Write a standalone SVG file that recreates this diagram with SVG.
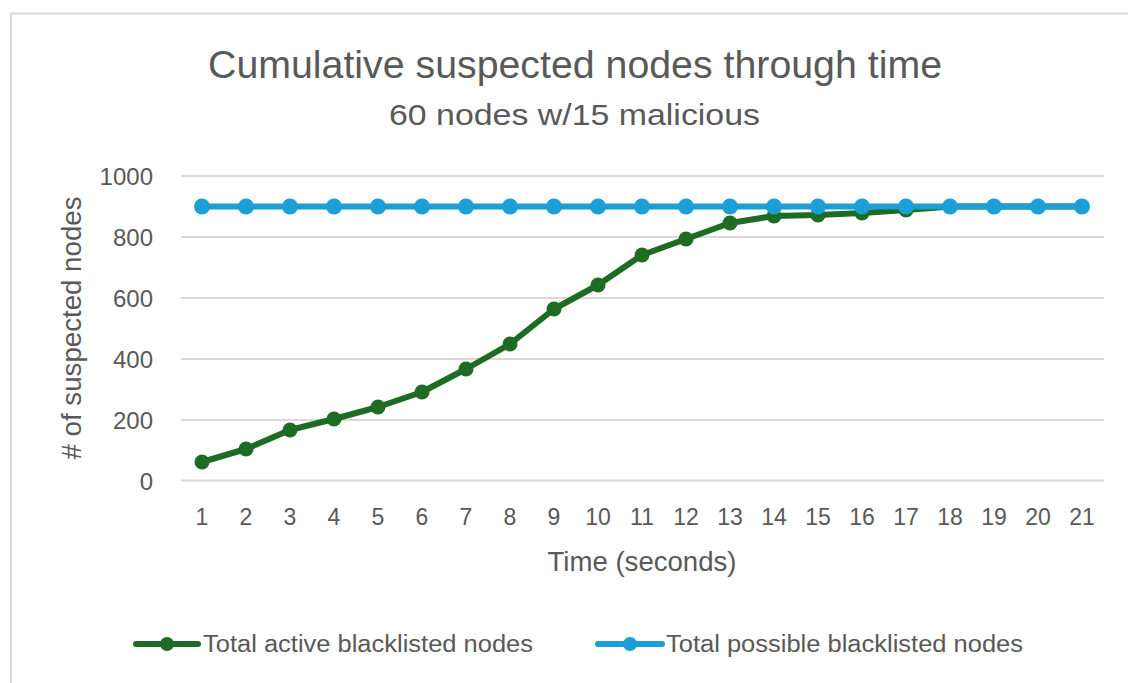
<svg xmlns="http://www.w3.org/2000/svg" width="1128" height="683" viewBox="0 0 1128 683">
<style>
text{font-family:"Liberation Sans",Arial,sans-serif;fill:#595959}
.grid{stroke:#d9d9d9;stroke-width:2}
.yl{font-size:24px;text-anchor:end}
.xl{font-size:23px;text-anchor:middle}
.g{stroke:#1e6b23;stroke-width:6;fill:none;stroke-linejoin:round;stroke-linecap:round}
.b{stroke:#1a9fd6;stroke-width:6;fill:none;stroke-linejoin:round}
.gm{fill:#1e6b23}
.bm{fill:#1a9fd6}
</style>
<rect x="0" y="0" width="1128" height="683" fill="#fff"/>
<path d="M11 683 V13.5 H1128" fill="none" stroke="#d9d9d9" stroke-width="2"/>
<g id="title">
<text x="575" y="78" font-size="38" text-anchor="middle" textLength="734" lengthAdjust="spacingAndGlyphs">Cumulative suspected nodes through time</text>
<text x="574.5" y="125" font-size="30" text-anchor="middle" textLength="371" lengthAdjust="spacingAndGlyphs">60 nodes w/15 malicious</text>
</g>
<g id="gridlines">
<line class="grid" x1="181" y1="176" x2="1104" y2="176"/>
<line class="grid" x1="181" y1="237" x2="1104" y2="237"/>
<line class="grid" x1="181" y1="298" x2="1104" y2="298"/>
<line class="grid" x1="181" y1="359" x2="1104" y2="359"/>
<line class="grid" x1="181" y1="420" x2="1104" y2="420"/>
<line class="grid" x1="181" y1="480.5" x2="1104" y2="480.5"/>
</g>
<g id="y-axis">
<text class="yl" x="153" y="184.5">1000</text>
<text class="yl" x="153" y="245.5">800</text>
<text class="yl" x="153" y="306.5">600</text>
<text class="yl" x="153" y="367.5">400</text>
<text class="yl" x="153" y="428.5">200</text>
<text class="yl" x="153" y="489.5">0</text>
<text x="0" y="0" font-size="27" text-anchor="middle" transform="translate(81 328) rotate(-90)" textLength="263" lengthAdjust="spacingAndGlyphs"># of suspected nodes</text>
</g>
<g id="x-axis">
<text class="xl" x="202" y="525">1</text>
<text class="xl" x="246" y="525">2</text>
<text class="xl" x="290" y="525">3</text>
<text class="xl" x="334" y="525">4</text>
<text class="xl" x="378" y="525">5</text>
<text class="xl" x="422" y="525">6</text>
<text class="xl" x="466" y="525">7</text>
<text class="xl" x="510" y="525">8</text>
<text class="xl" x="554" y="525">9</text>
<text class="xl" x="598" y="525">10</text>
<text class="xl" x="642" y="525">11</text>
<text class="xl" x="686" y="525">12</text>
<text class="xl" x="730" y="525">13</text>
<text class="xl" x="774" y="525">14</text>
<text class="xl" x="818" y="525">15</text>
<text class="xl" x="862" y="525">16</text>
<text class="xl" x="906" y="525">17</text>
<text class="xl" x="950" y="525">18</text>
<text class="xl" x="994" y="525">19</text>
<text class="xl" x="1038" y="525">20</text>
<text class="xl" x="1082" y="525">21</text>
<text x="642" y="571" font-size="27" text-anchor="middle" textLength="189" lengthAdjust="spacingAndGlyphs">Time (seconds)</text>
</g>
<g id="series-active">
<polyline class="g" points="202,462 246,449 290,430 334,419 378,407 422,392 466,369 510,344 554,309 598,285 642,255 686,239 730,223 774,216 818,215 862,213 906,210 950,206.5 994,206.5 1038,206.5 1082,206.5"/>
<g class="gm">
<circle cx="202" cy="462" r="7.5"/><circle cx="246" cy="449" r="7.5"/><circle cx="290" cy="430" r="7.5"/><circle cx="334" cy="419" r="7.5"/><circle cx="378" cy="407" r="7.5"/><circle cx="422" cy="392" r="7.5"/><circle cx="466" cy="369" r="7.5"/><circle cx="510" cy="344" r="7.5"/><circle cx="554" cy="309" r="7.5"/><circle cx="598" cy="285" r="7.5"/><circle cx="642" cy="255" r="7.5"/><circle cx="686" cy="239" r="7.5"/><circle cx="730" cy="223" r="7.5"/><circle cx="774" cy="216" r="7.5"/><circle cx="818" cy="215" r="7.5"/><circle cx="862" cy="213" r="7.5"/><circle cx="906" cy="210" r="7.5"/>
</g>
</g>
<g id="series-possible">
<line class="b" x1="202" y1="206.5" x2="1082" y2="206.5"/>
<g class="bm">
<circle cx="202" cy="206.5" r="8"/><circle cx="246" cy="206.5" r="8"/><circle cx="290" cy="206.5" r="8"/><circle cx="334" cy="206.5" r="8"/><circle cx="378" cy="206.5" r="8"/><circle cx="422" cy="206.5" r="8"/><circle cx="466" cy="206.5" r="8"/><circle cx="510" cy="206.5" r="8"/><circle cx="554" cy="206.5" r="8"/><circle cx="598" cy="206.5" r="8"/><circle cx="642" cy="206.5" r="8"/><circle cx="686" cy="206.5" r="8"/><circle cx="730" cy="206.5" r="8"/><circle cx="774" cy="206.5" r="8"/><circle cx="818" cy="206.5" r="8"/><circle cx="862" cy="206.5" r="8"/><circle cx="906" cy="206.5" r="8"/><circle cx="950" cy="206.5" r="8"/><circle cx="994" cy="206.5" r="8"/><circle cx="1038" cy="206.5" r="8"/><circle cx="1082" cy="206.5" r="8"/>
</g>
</g>
<g id="legend">
<line class="g" x1="136" y1="644" x2="198" y2="644"/>
<circle class="gm" cx="167" cy="644" r="7"/>
<text x="203" y="652" font-size="23" textLength="330" lengthAdjust="spacingAndGlyphs">Total active blacklisted nodes</text>
<line class="b" x1="598" y1="644" x2="662" y2="644" stroke-linecap="round"/>
<circle class="bm" cx="630" cy="644" r="7"/>
<text x="666" y="652" font-size="23" textLength="357" lengthAdjust="spacingAndGlyphs">Total possible blacklisted nodes</text>
</g>
</svg>
